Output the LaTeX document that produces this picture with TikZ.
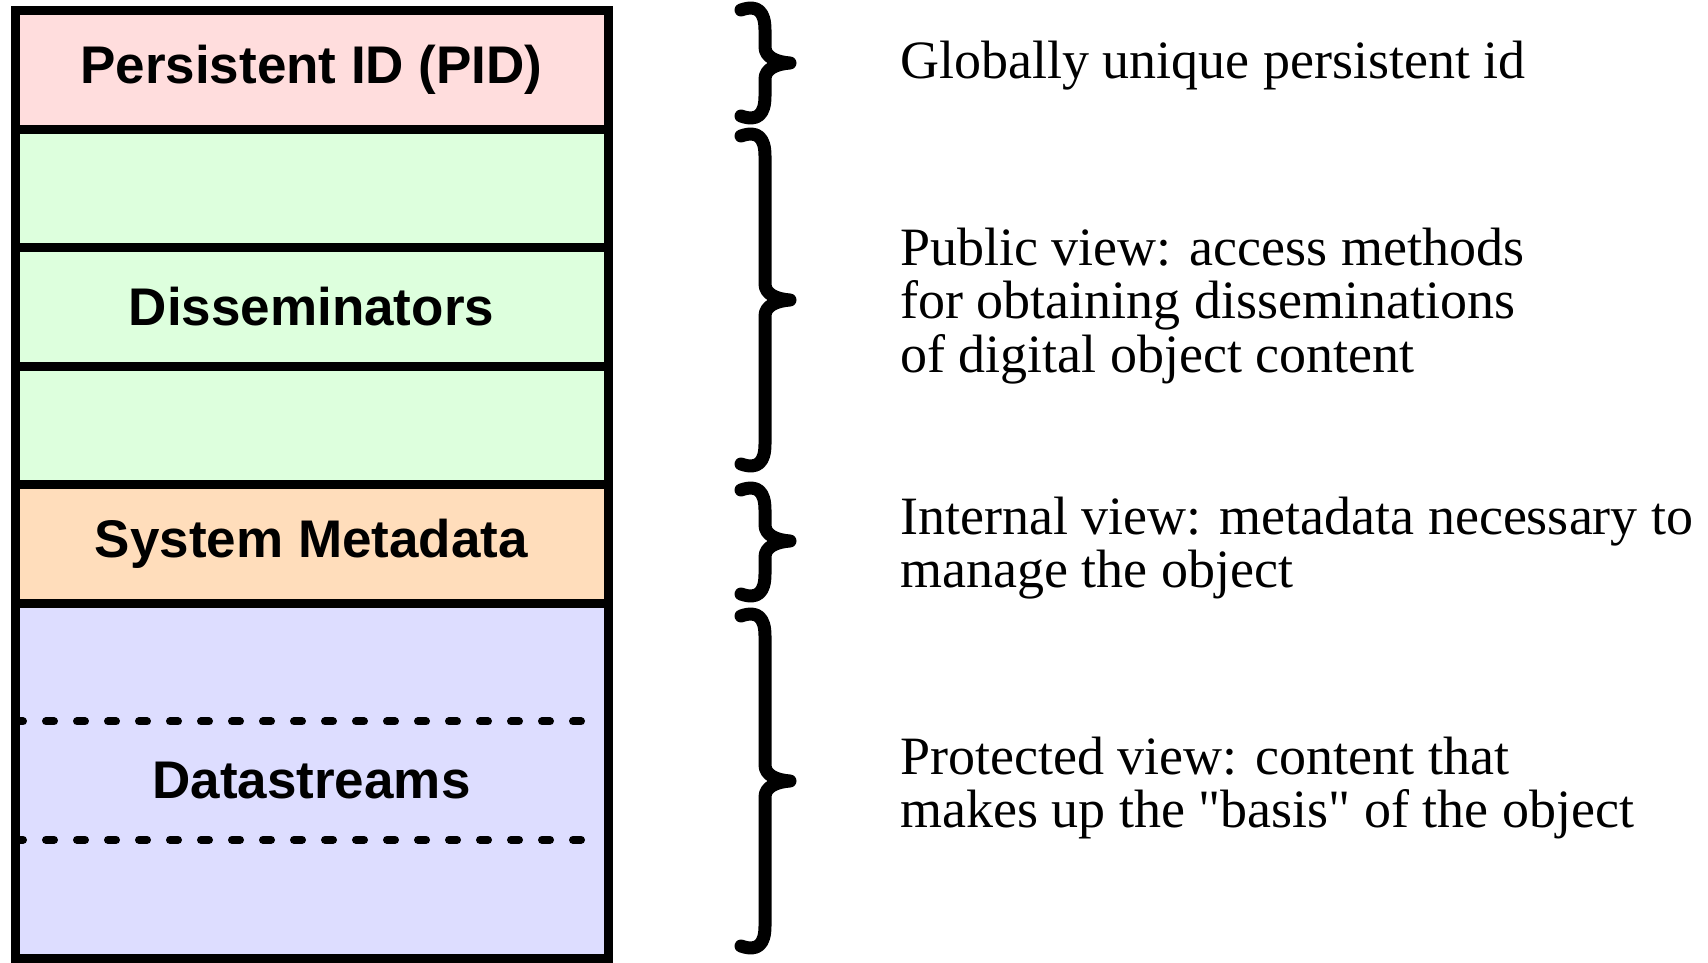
\documentclass[tikz,border=0pt]{standalone}
\usepackage{fontspec}
\setmainfont{Liberation Serif}[Ligatures=TeXOff]
\setsansfont{Liberation Sans}
\definecolor{pidpink}{RGB}{255,221,221}
\definecolor{disgreen}{RGB}{221,255,221}
\definecolor{sysorange}{RGB}{255,221,187}
\definecolor{dsblue}{RGB}{221,221,255}
\tikzset{
  layer/.style={draw=black, line width=9pt, minimum width=593pt, minimum height=118.4pt, inner sep=0pt, outer sep=0pt,
    font=\fontsize{53}{55}\selectfont\sffamily\bfseries},
  bracepath/.style={draw=black, line width=13pt, line cap=round, line join=round},
  desc/.style={anchor=west, align=left, inner sep=0pt, font=\fontsize{54}{53.4}\selectfont\rmfamily},
  dsep/.style={draw=black, line width=8pt, line cap=round, dash pattern=on 8pt off 23pt, dash phase=4pt}
}
\newcommand{\mybrace}[3]{% top, mid, bottom
  \draw[bracepath] (741,#1+4) .. controls (758,#1-2) and (765,#1+6) .. (765,#1+24)
    -- (765,#2-16) .. controls (765,#2-6) and (776,#2-1) .. (790,#2)
    .. controls (776,#2+1) and (765,#2+6) .. (765,#2+16)
    -- (765,#3-24) .. controls (765,#3-6) and (758,#3+2) .. (741,#3-4);
}
\begin{document}
\begin{tikzpicture}[x=1pt,y=-1pt]
\useasboundingbox (0,0) rectangle (1708,963);
% layers
\node[layer, fill=pidpink] (pid) at (311.5,70.2) {Persistent ID (PID)};
\node[layer, fill=disgreen] (d1) at (311.5,188.6) {};
\node[layer, fill=disgreen] (d2) at (311.5,307.0) {Disseminators};
\node[layer, fill=disgreen] (d3) at (311.5,425.4) {};
\node[layer, fill=sysorange] (sys) at (311.5,543.8) {System Metadata};
\node[layer, fill=dsblue, minimum height=355.2pt] (ds) at (311.5,780.6) {Datastreams};
% dashed separators
\coordinate (s1a) at (19,721.4);
\coordinate (s1b) at (583,721.4);
\coordinate (s2a) at (19,839.8);
\coordinate (s2b) at (583,839.8);
\draw[dsep] (s1a) -- (s1b);
\draw[dsep] (s2a) -- (s2b);
% braces
\mybrace{6}{63}{120}
\mybrace{132}{300}{468}
\mybrace{486}{541}{598}
\mybrace{612}{781}{950}
% descriptions
\node[desc] (t1) at (900,66) {Globally unique persistent id};
\node[desc] (t2) at (900,306) {Public view: access methods\\for obtaining disseminations\\of digital object content};
\node[desc] (t3) at (900,548) {Internal view: metadata necessary to\\manage the object};
\node[desc] (t4) at (900,788) {Protected view: content that\\makes up the "basis" of the object};
\end{tikzpicture}
\end{document}
